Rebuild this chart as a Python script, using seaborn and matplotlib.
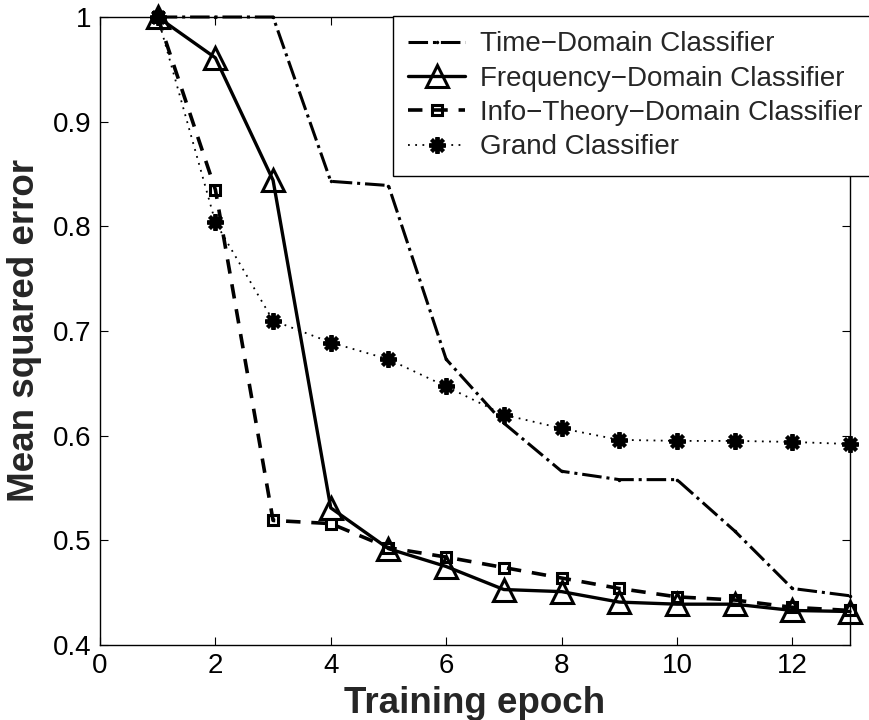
import matplotlib
matplotlib.use("Agg")
import matplotlib.pyplot as plt
import seaborn as sns
import pandas as pd

epochs = [1, 2, 3, 4, 5, 6, 7, 8, 9, 10, 11, 12, 13]
time_domain = [1.0, 1.0, 1.0, 0.843, 0.839, 0.673, 0.612, 0.566, 0.558, 0.558, 0.509, 0.454, 0.447]
freq_domain = [1.0, 0.961, 0.844, 0.531, 0.492, 0.475, 0.453, 0.451, 0.441, 0.439, 0.439, 0.433, 0.432]
info_domain = [1.0, 0.835, 0.519, 0.516, 0.493, 0.484, 0.474, 0.464, 0.454, 0.446, 0.443, 0.436, 0.433]
grand = [1.0, 0.804, 0.710, 0.689, 0.673, 0.647, 0.620, 0.607, 0.596, 0.595, 0.595, 0.594, 0.592]
labels = ["Time\u2212Domain Classifier", "Frequency\u2212Domain Classifier",
          "Info\u2212Theory\u2212Domain Classifier", "Grand Classifier"]
xticks = [0, 2, 4, 6, 8, 10, 12]
yticks = [0.4, 0.5, 0.6, 0.7, 0.8, 0.9, 1.0]
ytick_labels = ["0.4", "0.5", "0.6", "0.7", "0.8", "0.9", "1"]

sns.set_theme(style="ticks")
plt.rcParams["font.family"] = ["Liberation Sans", "DejaVu Sans"]

fig = plt.figure(figsize=(8.69, 7.2), dpi=100)
ax = fig.add_axes([100/869, 1 - 645/720, 750/869, (645-17)/720])

df = pd.DataFrame({"epoch": epochs, "t": time_domain, "f": freq_domain,
                   "i": info_domain, "g": grand})

sns.lineplot(data=df, x="epoch", y="t", ax=ax, color="black", linestyle="-.",
             linewidth=2.2, marker="o", markersize=2.5, markeredgewidth=0,
             label=labels[0], clip_on=False)
sns.lineplot(data=df, x="epoch", y="f", ax=ax, color="black", linestyle="-",
             linewidth=2.4, marker="^", markersize=16, markerfacecolor="none",
             markeredgecolor="black", markeredgewidth=2.2, label=labels[1], clip_on=False)
sns.lineplot(data=df, x="epoch", y="i", ax=ax, color="black", linestyle=(0, (4, 3)),
             linewidth=2.6, marker="s", markersize=7.5, markerfacecolor="none",
             markeredgecolor="black", markeredgewidth=2.2, label=labels[2], clip_on=False)
sns.lineplot(data=df, x="epoch", y="g", ax=ax, color="black", linestyle=(0, (1, 3)),
             linewidth=1.3, marker=(8, 2, 0), markersize=12,
             markeredgecolor="black", markeredgewidth=2.8, label=labels[3], clip_on=False)

ax.set_xlim(0, 13)
ax.set_ylim(0.4, 1.0)
ax.set_xticks(xticks)
ax.set_xticklabels([str(v) for v in xticks])
ax.set_yticks(yticks)
ax.set_yticklabels(ytick_labels)
ax.tick_params(direction="in", length=6, width=0.8, labelsize=20, top=True, right=True,
               colors="black")
ax.tick_params(axis="x", pad=6)
ax.tick_params(axis="y", pad=6)
for s in ax.spines.values():
    s.set_visible(True)
    s.set_color("black")
    s.set_linewidth(1.0)
ax.set_xlabel("Training epoch", fontsize=26.5, fontweight="bold", labelpad=5)
ax.set_ylabel("Mean squared error", fontsize=26.5, fontweight="bold", labelpad=8)
ax.grid(False)

leg = ax.legend(loc="upper left", bbox_to_anchor=(393/869, 1 - 16/720),
                bbox_transform=fig.transFigure, frameon=True, fancybox=False,
                edgecolor="black", fontsize=20, handlelength=2.05, borderaxespad=0,
                handletextpad=0.55, borderpad=0.55, labelspacing=0.3, framealpha=1)
leg.get_frame().set_linewidth(1.0)

fig.savefig("out.png", dpi=100)
